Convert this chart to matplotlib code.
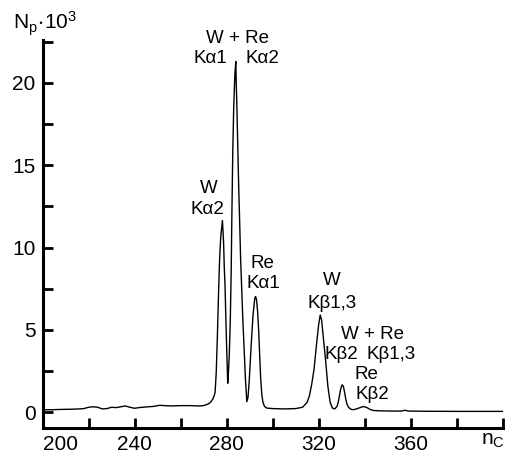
"""X-ray fluorescence spectrum of W + Re: counts vs channel number."""

import matplotlib

matplotlib.use("Agg")
import matplotlib.pyplot as plt
from matplotlib.ticker import MultipleLocator

# channel number n_C and counts N_p (x 10^3)
CHANNEL = [
    200, 204, 208, 212, 216, 218, 220, 222, 224, 226, 228, 230, 232, 234, 236, 238,
    240, 242, 245, 248, 251, 253, 256, 260, 264, 268, 270, 272, 273, 274, 274.6,
    275, 275.5, 276, 276.5, 277, 277.5, 278.2, 278.7, 279.0, 279.35, 279.7, 280.1,
    280.5, 280.8, 281.2, 281.6, 282.0, 282.3, 282.7, 283.1, 283.6, 284.0, 284.2,
    284.4, 284.7, 284.9, 285.3, 285.7, 286.1, 286.6, 287.1, 287.7, 288.2, 288.8,
    289.3, 289.8, 290.5, 291.0, 291.5, 292.0, 292.3, 292.6, 293.0, 293.5, 294.0,
    294.4, 294.8, 295.3, 295.8, 296.5, 297.5, 300, 305, 310, 313, 315, 316, 317,
    318, 319, 320, 320.7, 321.3, 322, 323, 324, 325, 326, 327, 328, 328.5, 329,
    329.5, 330, 330.3, 330.8, 331.3, 331.8, 332.3, 333, 334, 335, 336.5, 338,
    339.5, 341, 342.5, 344, 348, 352, 356, 357.5, 359, 365, 380, 400,
]
COUNTS = [
    0.15, 0.15, 0.17, 0.18, 0.20, 0.22, 0.30, 0.33, 0.30, 0.20, 0.22, 0.30, 0.28, 0.33, 0.38, 0.30,
    0.24, 0.28, 0.32, 0.35, 0.42, 0.40, 0.38, 0.40, 0.40, 0.38, 0.40, 0.50, 0.60, 0.80, 1.0,
    1.2, 2.4, 4.6, 7.2, 9.4, 10.7, 11.64, 10.3, 8.8, 7.6, 5.6, 3.6,
    1.76, 2.4, 3.6, 5.5, 8.5, 12.0, 15.9, 18.5, 20.5, 21.3, 20.0,
    19.0, 17.2, 15.9, 13.5, 11.5, 9.3, 7.4, 5.5, 3.6, 2.0, 0.64,
    0.9, 1.8, 3.6, 4.8, 5.9, 6.6, 6.95, 7.02, 6.85, 6.1, 4.8,
    3.4, 2.1, 1.1, 0.6, 0.35, 0.25, 0.22, 0.20, 0.22, 0.30, 0.60, 1.0, 1.7,
    2.6, 4.0, 5.3, 5.9, 5.6, 4.6, 3.2, 1.6, 0.6, 0.25, 0.20, 0.35, 0.60, 0.95,
    1.35, 1.60, 1.66, 1.55, 1.20, 0.80, 0.50, 0.30, 0.18, 0.15, 0.20, 0.28,
    0.35, 0.28, 0.16, 0.10, 0.08, 0.07, 0.07, 0.12, 0.07, 0.06, 0.05, 0.05,
]

X_LABELS = [200, 240, 280, 320, 360]
Y_LABELS = [0, 5, 10, 15, 20]

# peak labels: (text, n_C, N_p)
PEAK_TEXT = [
    ("W + Re", 284.6, 22.71),
    ("K\u03b11", 272.8, 21.49),
    ("K\u03b12", 295.4, 21.49),
    ("W", 272.4, 13.57),
    ("K\u03b12", 271.7, 12.29),
    ("Re", 295.7, 9.05),
    ("K\u03b11", 296.0, 7.79),
    ("W", 325.9, 7.98),
    ("K\u03b21,3", 325.9, 6.61),
    ("W + Re", 343.3, 4.70),
    ("K\u03b22", 329.8, 3.48),
    ("K\u03b21,3", 351.5, 3.48),
    ("Re", 340.9, 2.27),
    ("K\u03b22", 343.3, 1.05),
]


def main() -> None:
    plt.rcParams.update(
        {
            "font.family": ["Liberation Sans", "DejaVu Sans"],
            "mathtext.fontset": "custom",
            "mathtext.rm": "Liberation Sans",
            "mathtext.it": "Liberation Sans",
        }
    )
    fig = plt.figure(figsize=(5.07, 4.53), dpi=100)
    ax = fig.add_axes([42.5 / 507, 25.3 / 453, 460.2 / 507, 387.7 / 453])
    ax.plot(CHANNEL, COUNTS, color="black", lw=1.0)

    ax.set_xlim(200, 400)
    ax.set_ylim(-0.94, 22.6)
    for side in ("top", "right"):
        ax.spines[side].set_visible(False)
    for side in ("left", "bottom"):
        ax.spines[side].set_linewidth(2.2)

    ax.xaxis.set_major_locator(MultipleLocator(40))
    ax.xaxis.set_minor_locator(MultipleLocator(20))
    ax.yaxis.set_major_locator(MultipleLocator(5))
    ax.yaxis.set_minor_locator(MultipleLocator(2.5))
    ax.set_xticks(X_LABELS)
    ax.set_xticklabels([str(v) for v in X_LABELS])
    ax.set_yticks(Y_LABELS)
    ax.tick_params(which="both", direction="in", length=7, width=2.0, labelsize=15)
    ax.tick_params(axis="x", pad=5)
    ax.tick_params(axis="y", pad=5)
    ax.get_xticklabels()[0].set_horizontalalignment("left")

    for label, x, y in PEAK_TEXT:
        ax.text(x, y, label, fontsize=13.5, ha="center", va="center", clip_on=False)

    fig.text(13 / 507, 1 - 30 / 453, r"$\mathregular{N_p\!\cdot\!10^3}$", fontsize=15,
             ha="left", va="baseline")
    fig.text(481 / 507, 1 - 445 / 453, r"$\mathregular{n_C}$", fontsize=15,
             ha="left", va="baseline")

    fig.savefig("out.png", dpi=100)
    plt.close(fig)


if __name__ == "__main__":
    main()
